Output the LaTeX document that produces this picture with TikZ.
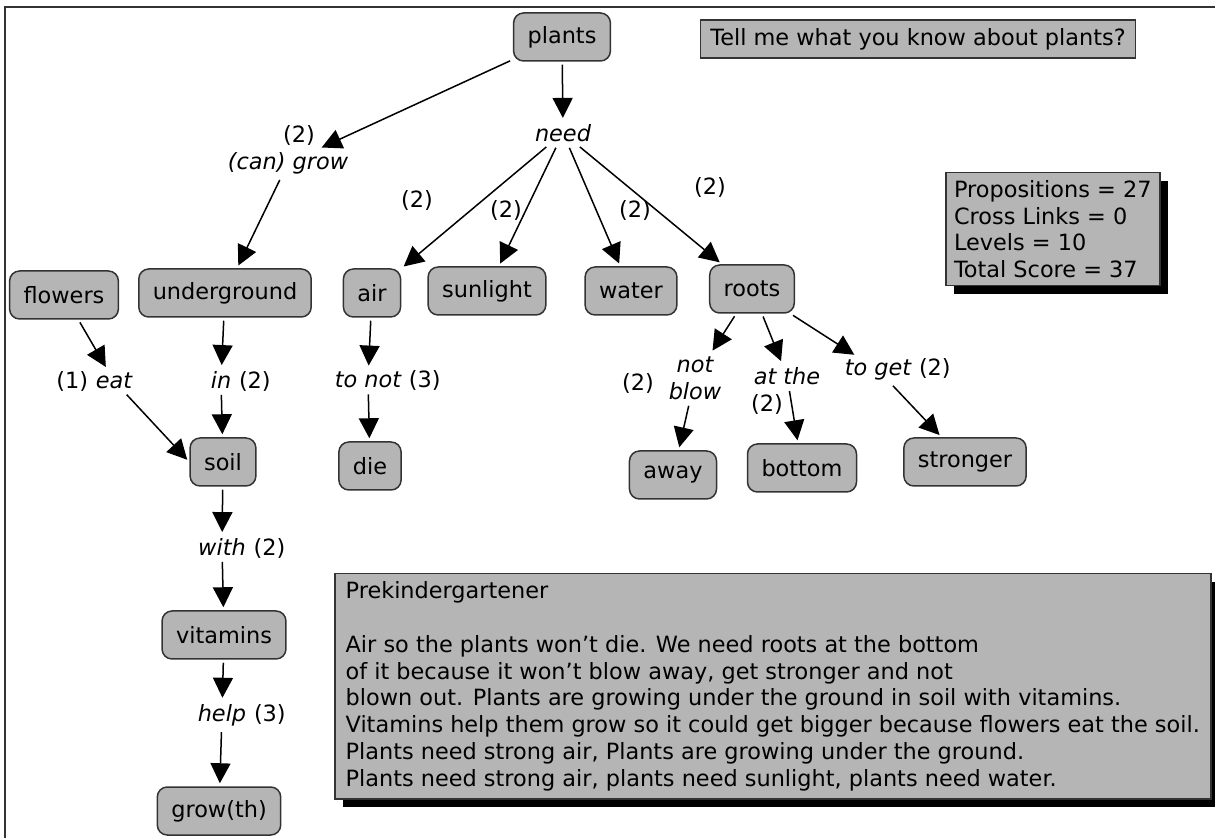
\documentclass[tikz,border=0pt]{standalone}
\usepackage{fontspec}
\setmainfont{DejaVu Sans}
\usetikzlibrary{arrows.meta,positioning,shadows}
\definecolor{boxgray}{gray}{0.71}
\definecolor{edgegray}{gray}{0.2}

\begin{document}
\begin{tikzpicture}[x=0.5pt,y=-0.5pt,
	font=\fontsize{11.2pt}{13.4pt}\selectfont,
	concept/.style={draw=edgegray,fill=boxgray,line width=0.75pt,rounded corners=5pt,inner xsep=7pt,minimum height=24pt},
	link/.style={inner sep=1.5pt,font=\fontsize{11.2pt}{13.4pt}\selectfont\itshape},
	score/.style={inner sep=1pt},
	infobox/.style={draw=edgegray,fill=boxgray,line width=0.75pt,align=left},
	blackshadow/.style={drop shadow={shadow xshift=4pt,shadow yshift=-4pt,fill=black,opacity=1}},
	arr/.style={-{Triangle[length=10pt,width=10pt]},line width=0.75pt,shorten >=1.5pt,shorten <=1.5pt}]
	\useasboundingbox (0,0) rectangle (1215,838);
	\draw[edgegray,line width=0.75pt] (1215,7) -- (5,7) -- (5,838);

	% concepts
	\node[concept] (plants) at (562,37) {plants};
	\node[concept] (flowers) at (64,295) {flowers};
	\node[concept] (underground) at (225,293) {underground};
	\node[concept] (air) at (372,293) {air};
	\node[concept] (sunlight) at (487,291) {sunlight};
	\node[concept] (water) at (631,291) {water};
	\node[concept] (roots) at (752,289) {roots};
	\node[concept] (soil) at (223,462) {soil};
	\node[concept] (die) at (370,466) {die};
	\node[concept] (vitamins) at (224,635) {vitamins};
	\node[concept] (growth) at (219,811) {grow(th)};
	\node[concept] (away) at (673,475) {away};
	\node[concept] (bottom) at (802,468) {bottom};
	\node[concept] (stronger) at (965,462) {stronger};

	% linking words
	\node[link] (need) at (563,133) {need};
	\node[link] (cangrow) at (288,163) {(can) grow};
	\node[link] (eat) at (114,381) {eat};
	\node[link] (in) at (221,380) {in};
	\node[link] (tonot) at (368,380) {to not};
	\node[link] (with) at (222,547) {with};
	\node[link] (help) at (222,715) {help};
	\node[link,align=center] (notblow) at (695,378) {not\\blow};
	\node[link] (atthe) at (787,376) {at the};
	\node[link] (toget) at (878,370) {to get};

	% scores
	\node[score] (s-cangrow) at (299,135) {(2)};
	\node[score] (s-air) at (417,200) {(2)};
	\node[score] (s-sunlight) at (506,210) {(2)};
	\node[score] (s-water) at (635,210) {(2)};
	\node[score] (s-roots) at (710,187) {(2)};
	\node[score] (s-notblow) at (638,383) {(2)};
	\node[score] (s-atthe) at (767,404) {(2)};
	\node[score,left=1pt of eat.base west,anchor=base east] (s-eat) {(1)};
	\node[score,right=1pt of in.base east,anchor=base west] (s-in) {(2)};
	\node[score,right=1pt of tonot.base east,anchor=base west] (s-tonot) {(3)};
	\node[score,right=1pt of with.base east,anchor=base west] (s-with) {(2)};
	\node[score,right=1pt of help.base east,anchor=base west] (s-help) {(3)};
	\node[score,right=1pt of toget.base east,anchor=base west] (s-toget) {(2)};

	% boxes
	\node[infobox,minimum width=217.5pt,minimum height=19pt,inner sep=2pt] (question) at (918,39) {Tell me what you know about plants?};
	\node[infobox,blackshadow,anchor=north west,minimum width=107pt,minimum height=56.5pt,inner sep=3pt] (stats) at (945,172)
		{Propositions = 27\\Cross Links = 0\\Levels = 10\\Total Score = 37};
	\node[infobox,blackshadow,anchor=north west,minimum width=438pt,minimum height=112.5pt,inner sep=3.5pt] (story) at (334,573)
		{Prekindergartener\\[13.4pt]
		Air so the plants won’t die. We need roots at the bottom\\
		of it because it won’t blow away, get stronger and not\\
		blown out. Plants are growing under the ground in soil with vitamins.\\
		Vitamins help them grow so it could get bigger because flowers eat the soil.\\
		Plants need strong air, Plants are growing under the ground.\\
		Plants need strong air, plants need sunlight, plants need water.};

	% links
	\draw[arr] (plants) -- (need);
	\draw[arr] (plants) -- (cangrow);
	\draw[arr] (cangrow) -- (underground);
	\draw[arr] (need) -- (air);
	\draw[arr] (need) -- (sunlight);
	\draw[arr] (need) -- (water);
	\draw[arr] (need) -- (roots);
	\draw[arr] (flowers) -- (eat);
	\draw[arr] (eat) -- (soil.west);
	\draw[arr] (underground) -- (in);
	\draw[arr] (in) -- (soil);
	\draw[arr] (air) -- (tonot);
	\draw[arr] (tonot) -- (die);
	\draw[arr] (soil) -- (with);
	\draw[arr] (with) -- (vitamins);
	\draw[arr] (vitamins) -- (help);
	\draw[arr] (help) -- (growth);
	\draw[arr] (roots) -- (notblow);
	\draw[arr] (roots) -- (atthe);
	\draw[arr] (roots) -- (toget);
	\draw[arr] (notblow) -- (away);
	\draw[arr] (atthe) -- (bottom);
	\draw[arr] (toget) -- (stronger);
\end{tikzpicture}
\end{document}
